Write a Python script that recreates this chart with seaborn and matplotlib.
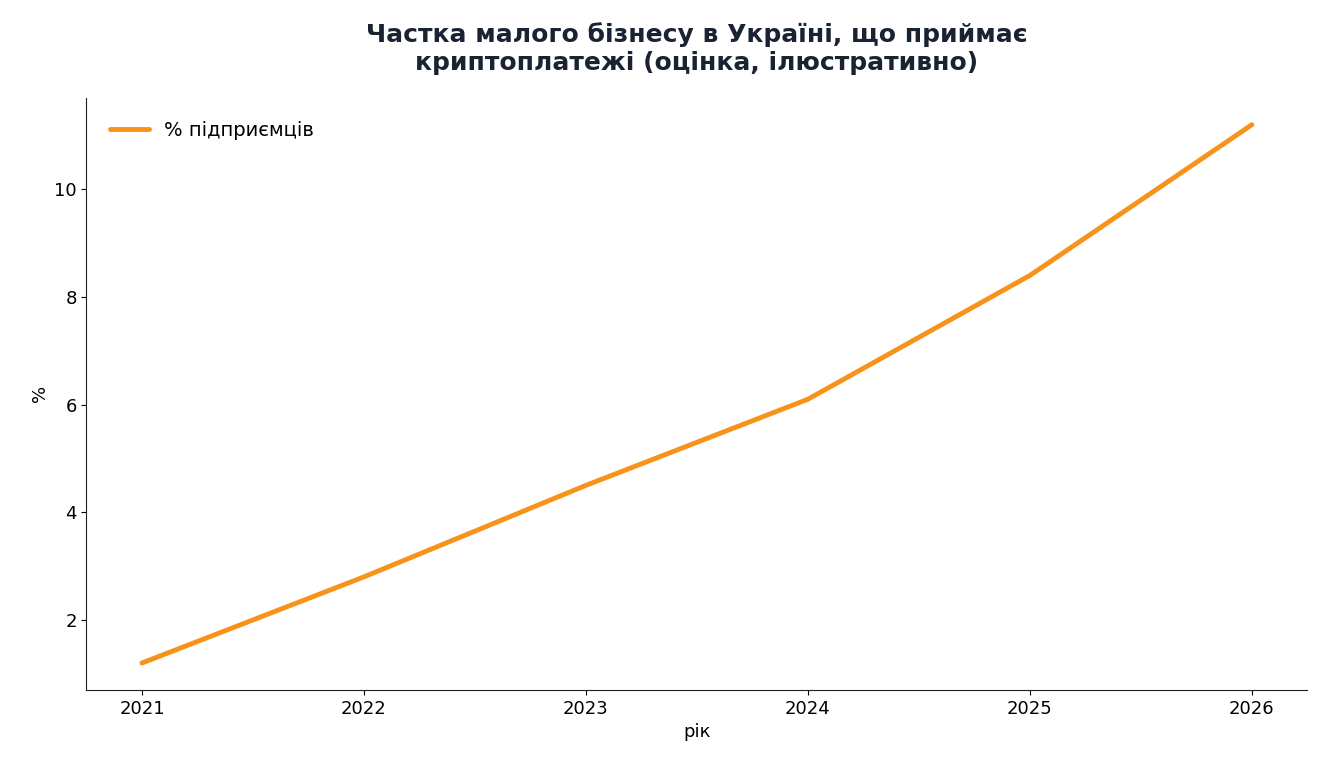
import matplotlib
matplotlib.use("Agg")
import matplotlib.pyplot as plt
import seaborn as sns
import pandas as pd

years = [2021, 2022, 2023, 2024, 2025, 2026]
share = [1.2, 2.8, 4.5, 6.1, 8.4, 11.2]
series_label = "% підприємців"

sns.set_style("ticks")
plt.rcParams['font.family'] = ['DejaVu Sans']
plt.rcParams['text.color'] = 'black'
plt.rcParams['axes.labelcolor'] = 'black'
plt.rcParams['xtick.color'] = 'black'
plt.rcParams['ytick.color'] = 'black'
plt.rcParams['axes.edgecolor'] = '#222222'

df = pd.DataFrame({'year': years, 'share': share})

fig, ax = plt.subplots(figsize=(13.3, 7.7), dpi=100)
sns.lineplot(data=df, x='year', y='share', color='#f7931a', linewidth=3.5,
             label=series_label, ax=ax)
ax.set_title("Частка малого бізнесу в Україні, що приймає\nкриптоплатежі (оцінка, ілюстративно)",
             fontsize=18, fontweight='bold', color='#1a2332', pad=20)
ax.set_xlabel("рік", fontsize=13)
ax.set_ylabel("%", fontsize=13)
ax.set_xticks(years)
ax.tick_params(labelsize=13)
ax.set_xlim(2020.75, 2026.25)
ax.legend(loc='upper left', frameon=False, fontsize=14, borderaxespad=0.8)
sns.despine(ax=ax)
fig.subplots_adjust(left=0.065, right=0.983, top=0.873, bottom=0.104)
fig.savefig("out.png", dpi=100)
